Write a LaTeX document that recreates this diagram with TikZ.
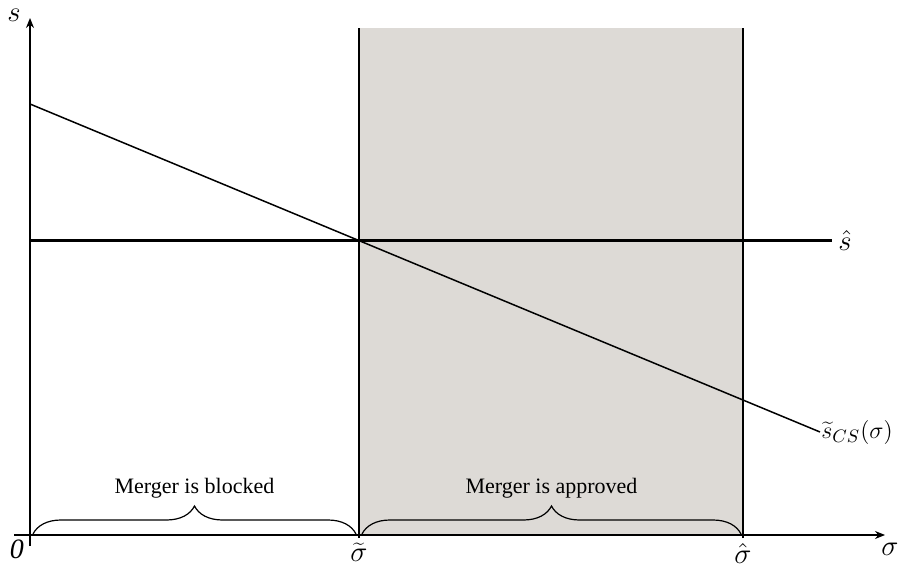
\documentclass[tikz,border=0pt]{standalone}
\usepackage{fontspec}
\setmainfont{Liberation Serif}
\usepackage{xcolor}
\usetikzlibrary{arrows.meta}
\usetikzlibrary{decorations.pathreplacing}
\definecolor{zonegray}{RGB}{221,218,214}
\tikzset{
  axis/.style={line width=.75pt,-{Stealth[length=5pt,width=4pt]}},
  bound/.style={line width=1pt},
  curve/.style={line width=.75pt},
  level/.style={line width=1.5pt},
  brc/.style={line width=.6pt,decorate,decoration={brace,amplitude=14}},
  lbl/.style={inner sep=0pt,font=\fontsize{14}{16}\selectfont},
  clbl/.style={inner sep=0pt,font=\fontsize{13}{15}\selectfont}
}

\begin{document}
\begin{tikzpicture}[x=.5pt,y=-.5pt,font=\fontsize{11}{13}\selectfont]
  \useasboundingbox (0,0) rectangle (899,566);
  % approval zone
  \fill[zonegray] (359,28) rectangle (743,535);
  % points on the axes
  \path (30,535) coordinate (o)
    (30,18) coordinate (yt) (30,546) coordinate (yb)
    (14,535) coordinate (xl) (885,535) coordinate (xr)
    (359,28) coordinate (tt) (359,538) coordinate (tb)
    (743,28) coordinate (ht) (743,538) coordinate (hb)
    (30,241) coordinate (sl) (832,241) coordinate (sr)
    (30,104) coordinate (cl) (820,432) coordinate (cr);
  \draw[axis] (yb) -- (yt);
  \draw[axis] (xl) -- (xr);
  \draw[bound] (tb) -- (tt);
  \draw[bound] (hb) -- (ht);
  \draw[level] (sl) -- (sr);
  \draw[curve] (cl) -- (cr);
  % labels
  \node (ys) [lbl] at (14,15) {$s$};
  \node (xs) [lbl] at (890,549) {$\sigma$};
  \node (zero) [lbl] at (17,549) {\textit{0}};
  \node (st) [lbl,below] at ([yshift=-2.5pt]tb) {$\widetilde{\sigma}$};
  \node (sh) [lbl,below] at ([yshift=-2.5pt]hb) {$\hat{\sigma}$};
  \node (shat) [lbl,right] at ([xshift=3pt]sr) {$\hat{s}$};
  \node (scs) [clbl,right] at ([xshift=.5pt]cr) {$\widetilde{s}_{CS}(\sigma)$};
  % braces
  \draw[brc] (33,534) -- (356,534)
    node (blk) [midway,above=14pt] {Merger is blocked};
  \draw[brc] (362,534) -- (741,534)
    node (apr) [midway,above=14pt] {Merger is approved};
\end{tikzpicture}
\end{document}
